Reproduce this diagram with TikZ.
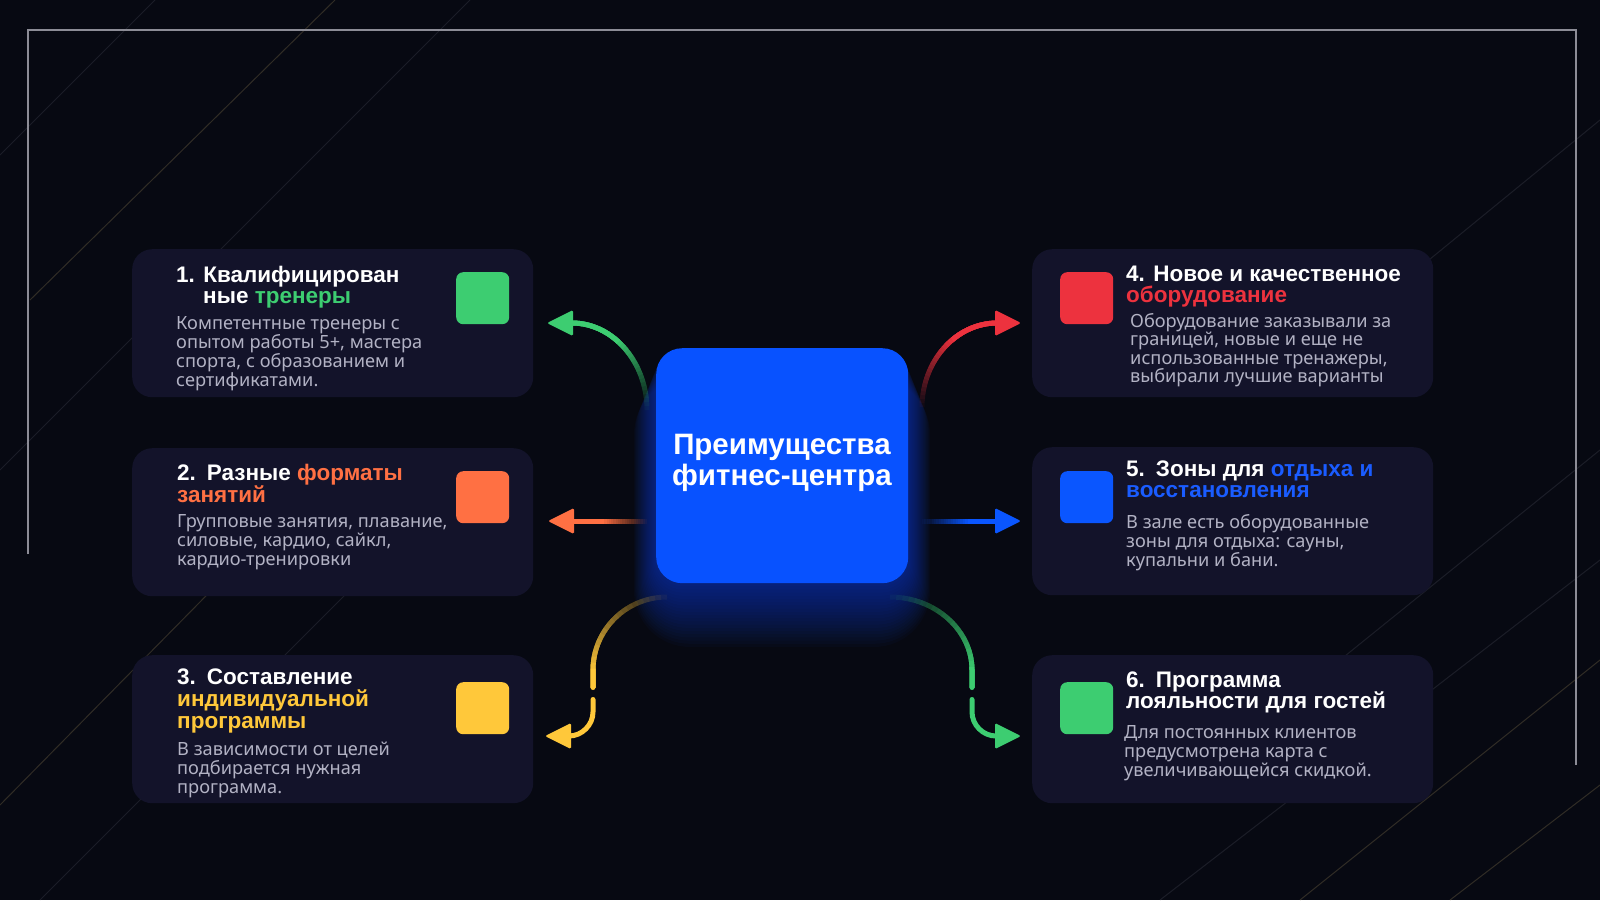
\documentclass[tikz,border=0pt]{standalone}
\usepackage{fontspec}
\setmainfont{Noto Sans}
\newfontfamily\ttlf{Liberation Sans}
\usetikzlibrary{calc}
\definecolor{bgc}{RGB}{7,9,18}
\definecolor{cardc}{RGB}{19,19,42}
\definecolor{cgreen}{RGB}{61,205,113}
\definecolor{corange}{RGB}{255,112,67}
\definecolor{cyellow}{RGB}{255,200,58}
\definecolor{cred}{RGB}{237,50,62}
\definecolor{cblue}{RGB}{10,86,255}
\definecolor{hubc}{RGB}{8,82,255}
\definecolor{tblue}{RGB}{26,92,255}
\definecolor{bodyc}{RGB}{178,178,196}
\definecolor{framec}{RGB}{140,140,150}
\definecolor{glowc}{RGB}{20,80,255}
\definecolor{streakc}{RGB}{90,92,105}
\definecolor{goldc}{RGB}{125,110,75}
\newcommand\gradpath[3]{%
  \foreach \k in {1,...,20}{%
    \pgfmathsetmacro\gpoff{#2*(\k-1)/20}%
    \pgfmathsetmacro\gpop{1/(21-\k)}%
    \draw[#1, line width=5pt, opacity=\gpop, dash pattern=on 0pt off \gpoff pt on 3000pt off 1pt] #3;%
  }%
}
\tikzset{
  card/.style={fill=cardc, rounded corners=20pt, minimum width=401pt, minimum height=148pt, inner sep=0pt, anchor=north west},
  sq/.style={rounded corners=7pt, minimum width=53pt, minimum height=52pt, inner sep=0pt, anchor=north west},
  hub/.style={fill=hubc, rounded corners=26pt, minimum width=252pt, minimum height=235pt, inner sep=0pt, anchor=north west},
  ttl/.style={anchor=base west, inner sep=0pt, text=white, font=\ttlf\fontsize{22.5}{21}\selectfont\bfseries},
  bodytxt/.style={anchor=base west, inner sep=0pt, text=bodyc, font=\fontsize{18.2}{19}\selectfont},
  hubtxt/.style={anchor=base, inner sep=0pt, text=white, font=\ttlf\fontsize{29.5}{28}\selectfont\bfseries},
  streak/.style={streakc, line width=1pt, opacity=0.25},
  gstreak/.style={goldc, line width=1pt, opacity=0.35},
}
\begin{document}
\begin{tikzpicture}[x=1pt,y=-1pt]
\useasboundingbox (0,0) rectangle (1600,900);
\fill[bgc] (0,0) rectangle (1600,900);
% background streaks
\draw[streak] (0,155) -- (155,0);
\draw[gstreak] (30,300) -- (335,0);
\draw[streak] (0,470) -- (470,0);
\draw[gstreak] (0,805) -- (330,470);
\draw[streak] (40,900) -- (380,560);
\draw[streak] (1160,900) -- (1600,560);
\draw[gstreak] (1300,900) -- (1600,660);
\draw[streak] (1340,660) -- (1600,450);
\draw[gstreak] (1450,900) -- (1600,785);
\draw[streak] (1380,300) -- (1600,120);
% frame
\draw[framec, line width=1.8pt] (28,554) -- (28,30) -- (1576,30) -- (1576,765);

% cards
\node[card] (b1) at (132,249) {};
\node[card] (b2) at (132,448) {};
\node[card] (b3) at (132,655) {};
\node[card] (b4) at (1032,249) {};
\node[card] (b5) at (1032,447) {};
\node[card] (b6) at (1032,655) {};

% squares
\node[sq, fill=cgreen] (s1) at (456,272) {};
\node[sq, fill=corange] (s2) at (456,471) {};
\node[sq, fill=cyellow] (s3) at (456,682) {};
\node[sq, fill=cred] (s4) at (1060,272) {};
\node[sq, fill=cblue] (s5) at (1060,471) {};
\node[sq, fill=cgreen] (s6) at (1060,682) {};

% box 1
\node[ttl] (t1a) at (176,282) {1. Квалифицирован};
\node[ttl] (t1b) at (203,303) {ные \textcolor{cgreen}{тренеры}};
\node[bodytxt] (d1a) at (176,329) {Компетентные тренеры с};
\node[bodytxt] (d1b) at (176,348) {опытом работы 5+, мастера};
\node[bodytxt] (d1c) at (176,367) {спорта, с образованием и};
\node[bodytxt] (d1d) at (176,386) {сертификатами.};
% box 2
\node[ttl] (t2a) at (177,480) {2.\hspace{11pt}Разные \textcolor{corange}{форматы}};
\node[ttl] (t2b) at (177,502) {\textcolor{corange}{занятий}};
\node[bodytxt] (d2a) at (177,527) {Групповые занятия, плавание,};
\node[bodytxt] (d2b) at (177,546) {силовые, кардио, сайкл,};
\node[bodytxt] (d2c) at (177,565) {кардио-тренировки};
% box 3
\node[ttl] (t3a) at (177,684) {3.\hspace{11pt}Составление};
\node[ttl] (t3b) at (177,706) {\textcolor{cyellow}{индивидуальной}};
\node[ttl] (t3c) at (177,728) {\textcolor{cyellow}{программы}};
\node[bodytxt] (d3a) at (177,755) {В зависимости от целей};
\node[bodytxt] (d3b) at (177,774) {подбирается нужная};
\node[bodytxt] (d3c) at (177,793) {программа.};
% box 4
\node[ttl] (t4a) at (1126,281) {4. Новое и качественное};
\node[ttl] (t4b) at (1126,302) {\textcolor{cred}{оборудование}};
\node[bodytxt] (d4a) at (1130,327) {Оборудование заказывали за};
\node[bodytxt] (d4b) at (1130,345.5) {границей, новые и еще не};
\node[bodytxt] (d4c) at (1130,364) {использованные тренажеры,};
\node[bodytxt] (d4d) at (1130,382.5) {выбирали лучшие варианты};
% box 5
\node[ttl] (t5a) at (1126,476) {5.\hspace{11pt}Зоны для \textcolor{tblue}{отдыха и}};
\node[ttl] (t5b) at (1126,497) {\textcolor{tblue}{восстановления}};
\node[bodytxt] (d5a) at (1126,528) {В зале есть оборудованные};
\node[bodytxt] (d5b) at (1126,547) {зоны для отдыха: сауны,};
\node[bodytxt] (d5c) at (1126,566) {купальни и бани.};
% box 6
\node[ttl] (t6a) at (1126,687) {6.\hspace{11pt}Программа};
\node[ttl] (t6b) at (1126,708) {лояльности для гостей};
\node[bodytxt] (d6a) at (1124,738) {Для постоянных клиентов};
\node[bodytxt] (d6b) at (1124,757) {предусмотрена карта с};
\node[bodytxt] (d6c) at (1124,776) {увеличивающейся скидкой.};

% glow of the hub
\coordinate (hnw) at (656,348);
\coordinate (hse) at (908,583);
\foreach \i in {1,...,20}{
  \fill[glowc, opacity=0.03, rounded corners={26pt+\i*1.5pt}]
    ($(hnw)+(-\i*1.1,\i*1.5)$) rectangle ($(hse)+(\i*1.1,\i*3.2)$);
}

% arrows
\coordinate (g1s) at (647,410);
\coordinate (g1e) at (572,323);
\coordinate (g1t) at (547,323);
\gradpath{cgreen}{80}{(g1s) .. controls +(0,-48) and +(41,0) .. (g1e)}
\fill[cgreen, rounded corners=1.5pt] (g1t) -- ($(g1t)+(26,-13)$) -- ($(g1t)+(26,13)$) -- cycle;

\coordinate (o2s) at (647,521);
\coordinate (o2e) at (572,521);
\coordinate (o2t) at (548,521);
\gradpath{corange}{45}{(o2s) -- (o2e)}
\fill[corange, rounded corners=1.5pt] (o2t) -- ($(o2t)+(26,-13)$) -- ($(o2t)+(26,13)$) -- cycle;

\coordinate (y3s) at (667,597);
\coordinate (y3a) at (593,670);
\coordinate (y3b) at (593,687.5);
\coordinate (y3c) at (593,699.5);
\coordinate (y3d) at (593,712);
\coordinate (y3e) at (569,736);
\coordinate (y3t) at (545,736);
\gradpath{cyellow}{120}{(y3s) .. controls +(-41,0) and +(0,-40) .. (y3a) -- (y3b)}
\fill[cyellow] (y3b) circle (2.5pt);
\draw[cyellow, line width=5pt, line cap=round] (y3c) -- (y3d) .. controls +(0,13) and +(13,0) .. (y3e);
\fill[cyellow, rounded corners=1.5pt] (y3t) -- ($(y3t)+(26,-13)$) -- ($(y3t)+(26,13)$) -- cycle;

\coordinate (r4s) at (922,407);
\coordinate (r4e) at (997,323);
\coordinate (r4t) at (1021,323);
\gradpath{cred}{80}{(r4s) .. controls +(0,-46) and +(-41,0) .. (r4e)}
\fill[cred, rounded corners=1.5pt] (r4t) -- ($(r4t)+(-26,-13)$) -- ($(r4t)+(-26,13)$) -- cycle;

\coordinate (b5s) at (922,521);
\coordinate (b5e) at (997,521);
\coordinate (b5t) at (1021,521);
\gradpath{cblue}{48}{(b5s) -- (b5e)}
\fill[cblue, rounded corners=1.5pt] (b5t) -- ($(b5t)+(-26,-13)$) -- ($(b5t)+(-26,13)$) -- cycle;

\coordinate (g6s) at (890,597);
\coordinate (g6a) at (972,670);
\coordinate (g6b) at (972,687.5);
\coordinate (g6c) at (972,699.5);
\coordinate (g6d) at (972,712);
\coordinate (g6e) at (996,736);
\coordinate (g6t) at (1021,736);
\gradpath{cgreen}{125}{(g6s) .. controls +(45,0) and +(0,-40) .. (g6a) -- (g6b)}
\fill[cgreen] (g6b) circle (2.5pt);
\draw[cgreen, line width=5pt, line cap=round] (g6c) -- (g6d) .. controls +(0,13) and +(-13,0) .. (g6e);
\fill[cgreen, rounded corners=1.5pt] (g6t) -- ($(g6t)+(-26,-13)$) -- ($(g6t)+(-26,13)$) -- cycle;

% hub
\node[hub] (hub) at (hnw) {};
\node[hubtxt] (h1) at (782,454) {Преимущества};
\node[hubtxt] (h2) at (782,485) {фитнес-центра};
\end{tikzpicture}
\end{document}
